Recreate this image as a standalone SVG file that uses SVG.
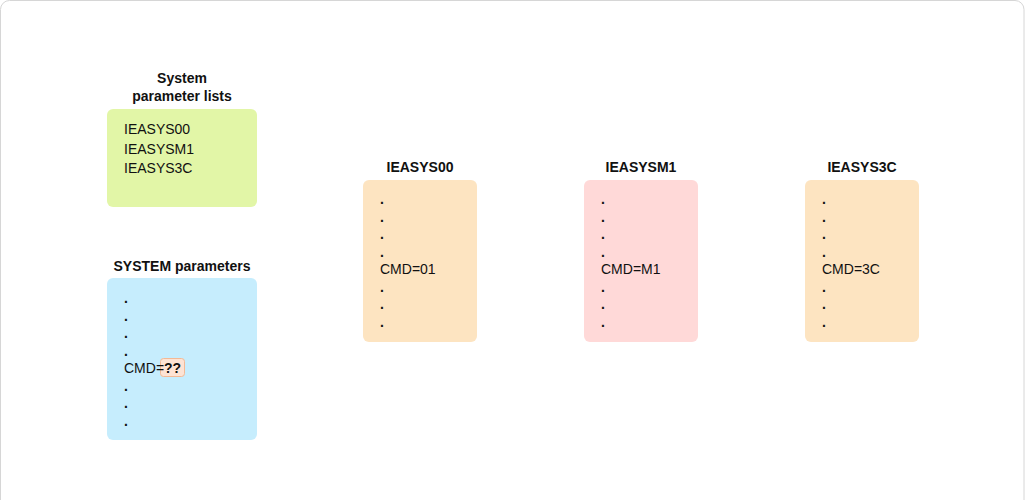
<svg xmlns="http://www.w3.org/2000/svg" width="1025" height="500" viewBox="0 0 1025 500">
<style>
text{font-family:"Liberation Sans",Arial,sans-serif;font-size:14px;fill:#111}
.t{font-weight:bold;text-anchor:middle}
.b{font-weight:bold}
.d{font-weight:bold}
.box{stroke:none}
</style>
<rect x="0.5" y="0.5" width="1023.5" height="530" rx="9" fill="#fff" stroke="#d6d6d6"/>
<g id="lists">
<text class="t" x="182" y="83">System</text>
<text class="t" x="182" y="101">parameter lists</text>
<rect class="box" x="107" y="109" width="150" height="98" rx="6" fill="#e2f6a7"/>
<text x="124" y="134">IEASYS00</text>
<text x="124" y="153.5">IEASYSM1</text>
<text x="124" y="173">IEASYS3C</text>
</g>
<g id="sysparams">
<text class="t" x="182" y="271">SYSTEM parameters</text>
<rect class="box" x="107" y="278" width="150" height="162" rx="6" fill="#c6edfd"/>
<g class="d">
<text class="d" x="124" y="303">.</text>
<text class="d" x="124" y="320.5">.</text>
<text class="d" x="124" y="338">.</text>
<text class="d" x="124" y="355.5">.</text>
<text class="d" x="124" y="390.5">.</text>
<text class="d" x="124" y="408">.</text>
<text class="d" x="124" y="425.5">.</text>
</g>
<rect x="160.5" y="358.5" width="24" height="18" rx="3" fill="#fde3d4" stroke="#f3b995"/>
<text x="124" y="373">CMD=<tspan class="b">??</tspan></text>
</g>
<g id="ieasys00">
<text class="t" x="420" y="172">IEASYS00</text>
<rect class="box" x="363" y="180" width="114" height="162" rx="6" fill="#fde4c1"/>
<text class="d" x="380" y="204">.</text>
<text class="d" x="380" y="221.5">.</text>
<text class="d" x="380" y="239">.</text>
<text class="d" x="380" y="256.5">.</text>
<text x="380" y="274">CMD=01</text>
<text class="d" x="380" y="291.5">.</text>
<text class="d" x="380" y="309">.</text>
<text class="d" x="380" y="326.5">.</text>
</g>
<g id="ieasysm1">
<text class="t" x="641" y="172">IEASYSM1</text>
<rect class="box" x="584" y="180" width="114" height="162" rx="6" fill="#ffd9d8"/>
<text class="d" x="601" y="204">.</text>
<text class="d" x="601" y="221.5">.</text>
<text class="d" x="601" y="239">.</text>
<text class="d" x="601" y="256.5">.</text>
<text x="601" y="274">CMD=M1</text>
<text class="d" x="601" y="291.5">.</text>
<text class="d" x="601" y="309">.</text>
<text class="d" x="601" y="326.5">.</text>
</g>
<g id="ieasys3c">
<text class="t" x="862" y="172">IEASYS3C</text>
<rect class="box" x="805" y="180" width="114" height="162" rx="6" fill="#fde4c1"/>
<text class="d" x="822" y="204">.</text>
<text class="d" x="822" y="221.5">.</text>
<text class="d" x="822" y="239">.</text>
<text class="d" x="822" y="256.5">.</text>
<text x="822" y="274">CMD=3C</text>
<text class="d" x="822" y="291.5">.</text>
<text class="d" x="822" y="309">.</text>
<text class="d" x="822" y="326.5">.</text>
</g>
<g id="connectors"></g>
</svg>
